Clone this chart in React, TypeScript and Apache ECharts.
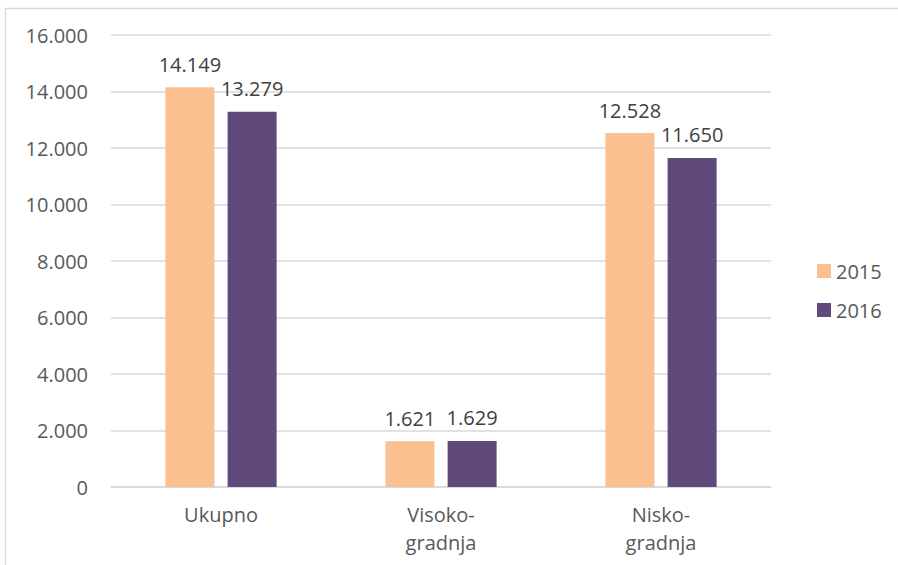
import React, { useEffect, useRef } from "react";
import * as echarts from "echarts";

const categories = ["Ukupno", "Visoko-\ngradnja", "Nisko-\ngradnja"];
const seriesNames = ["2015", "2016"];
const values2015 = [14149, 1621, 12528];
const values2016 = [13279, 1629, 11650];
const yTicks = { min: 0, max: 16000, interval: 2000 };

const fmt = (v: number) => String(Math.round(v)).replace(/\B(?=(\d{3})+(?!\d))/g, ".");

export default function App() {
  const ref = useRef<HTMLDivElement>(null);
  useEffect(() => {
    const chart = echarts.init(ref.current!, null, { renderer: "svg" });
    const font = "'Open Sans', sans-serif";
    const fs = 20;
    const labelStyle = {
      show: true,
      position: "top" as const,
      distance: 13,
      color: "#404040",
      fontSize: fs,
      fontFamily: font,
      formatter: (p: any) => fmt(p.value),
    };
    chart.setOption({
      animation: false,
      backgroundColor: "#fff",
      grid: { left: 111, right: 127, top: 35, bottom: 78, containLabel: false },
      graphic: [
        {
          type: "rect",
          shape: { x: 5.5, y: 8.5, width: 1000, height: 1000 },
          style: { fill: "none", stroke: "#d9d9d9", lineWidth: 1.5 },
          silent: true,
        },
      ],
      legend: {
        orient: "vertical",
        left: 812,
        top: 256,
        itemWidth: 14,
        itemHeight: 14,
        itemGap: 19,
        icon: "rect",
        textStyle: { color: "#595959", fontSize: fs, fontFamily: font },
        data: seriesNames,
      },
      xAxis: {
        type: "category",
        data: categories,
        axisLine: { lineStyle: { color: "#d9d9d9", width: 1.5 } },
        axisTick: { show: false },
        axisLabel: {
          color: "#595959",
          fontSize: fs,
          fontFamily: font,
          margin: 13,
          lineHeight: 28,
        },
      },
      yAxis: {
        type: "value",
        min: yTicks.min,
        max: yTicks.max,
        interval: yTicks.interval,
        axisLine: { show: false },
        axisTick: { show: false },
        splitLine: { lineStyle: { color: "#d9d9d9", width: 1.5 } },
        axisLabel: {
          color: "#595959",
          fontSize: fs,
          fontFamily: font,
          margin: 23,
          formatter: (v: number) => fmt(v),
        },
      },
      series: [
        {
          name: seriesNames[0],
          type: "bar",
          data: values2015,
          barWidth: 49,
          barGap: "27%",
          itemStyle: { color: "#FAC090" },
          label: labelStyle,
        },
        {
          name: seriesNames[1],
          type: "bar",
          data: values2016,
          barWidth: 49,
          barGap: "27%",
          itemStyle: { color: "#604A7B" },
          label: labelStyle,
        },
      ],
    });
    return () => chart.dispose();
  }, []);
  return (
    <div
      ref={ref}
      style={{ position: "absolute", left: 0, top: 0, width: 898, height: 565 }}
    />
  );
}
